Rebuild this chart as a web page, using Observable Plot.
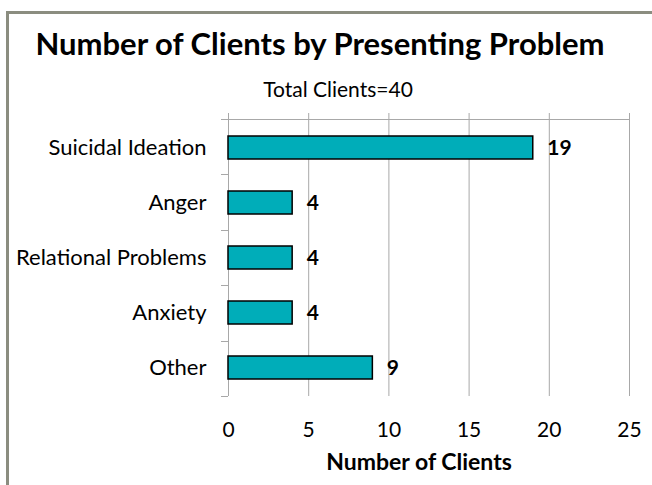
<!DOCTYPE html>
<html>
<head>
<meta charset="utf-8">
<script src="https://cdn.jsdelivr.net/npm/d3@7"></script>
<script src="https://cdn.jsdelivr.net/npm/@observablehq/plot@0.6"></script>
<style>
  html, body { margin: 0; padding: 0; background: #fff; }
  #wrap { position: relative; width: 652px; height: 485px; overflow: hidden; font-family: Lato, "Open Sans", sans-serif; color: #000; }
  #wrap svg { position: absolute; left: 0; top: 0; }
  #border { position: absolute; left: 6px; top: 11px; right: -10px; bottom: -10px; border-top: 3px solid #8b8d80; border-left: 3px solid #8b8d80; pointer-events: none; }
  #title { position: absolute; left: 0; width: 640px; top: 27.5px; text-align: center; font-weight: bold; font-size: 31px; line-height: 1; white-space: nowrap; }
  #subtitle { position: absolute; left: 0; width: 676px; top: 77.5px; text-align: center; font-size: 21px; line-height: 1; white-space: nowrap; }
</style>
</head>
<body>
<div id="wrap">
  <div id="title"></div>
  <div id="subtitle"></div>
</div>
<script>
// ---- data ----
const categories = ["Suicidal Ideation", "Anger", "Relational Problems", "Anxiety", "Other"];
const counts = [19, 4, 4, 4, 9];
const xTicks = [0, 5, 10, 15, 20, 25];
const titleText = "Number of Clients by Presenting Problem";
const subtitleText = "Total Clients=40";
const xLabel = "Number of Clients";

const data = categories.map((c, i) => ({category: c, count: counts[i]}));

const barColor = "#00adb9";
const lineColor = "#a8a8a8";

document.getElementById("title").textContent = titleText;
document.getElementById("subtitle").textContent = subtitleText;

// category boundaries (ticks between bands) and top axis line
const boundaryMark = (index, scales, values, dims) => {
  const {width, height, marginTop, marginBottom, marginLeft, marginRight} = dims;
  const n = categories.length;
  const step = (height - marginTop - marginBottom) / n;
  const g = d3.create("svg:g").attr("stroke", lineColor).attr("stroke-width", 1).attr("fill", "none");
  g.append("line")
    .attr("x1", marginLeft - 7).attr("x2", width - marginRight + 0.5)
    .attr("y1", marginTop + 0.5).attr("y2", marginTop + 0.5);
  for (let k = 1; k <= n; k++) {
    const yy = Math.round(marginTop + k * step) + 0.5;
    g.append("line")
      .attr("x1", marginLeft - 7).attr("x2", marginLeft)
      .attr("y1", yy).attr("y2", yy);
  }
  return g.node();
};

const chart = Plot.plot({
  width: 652,
  height: 485,
  marginTop: 119,
  marginBottom: 89,
  marginLeft: 228,
  marginRight: 23,
  style: {fontFamily: "Lato, 'Open Sans', sans-serif", fontSize: "21px", background: "transparent", color: "#000"},
  x: {domain: [0, 25], ticks: xTicks, label: null},
  y: {domain: categories, paddingInner: 0.59, paddingOuter: 0.295, label: null},
  marks: [
    Plot.gridX(xTicks, {stroke: lineColor, strokeOpacity: 1}),
    Plot.axisX({anchor: "top", ticks: xTicks, tickSize: 7, tickFormat: () => "", stroke: lineColor, strokeOpacity: 1, label: null}),
    Plot.axisX({anchor: "bottom", ticks: xTicks, tickSize: 0, tickPadding: 26, fontSize: 21, label: null}),
    Plot.axisY({tickSize: 0, tickPadding: 22, fontSize: 22, label: null}),
    boundaryMark,
    Plot.barX(data, {x: "count", y: "category", fill: barColor, stroke: "#000", strokeWidth: 1.5}),
    Plot.text(data, {x: "count", y: "category", text: d => String(d.count), textAnchor: "start", dx: 14, fontWeight: "bold", fontSize: 21}),
    Plot.text([xLabel], {frameAnchor: "bottom", dy: 66, dx: -10, fontWeight: "bold", fontSize: 23, lineAnchor: "middle"})
  ]
});

document.getElementById("wrap").insertBefore(chart, document.getElementById("title"));
const border = document.createElement("div");
border.id = "border";
document.getElementById("wrap").appendChild(border);
</script>
</body>
</html>
